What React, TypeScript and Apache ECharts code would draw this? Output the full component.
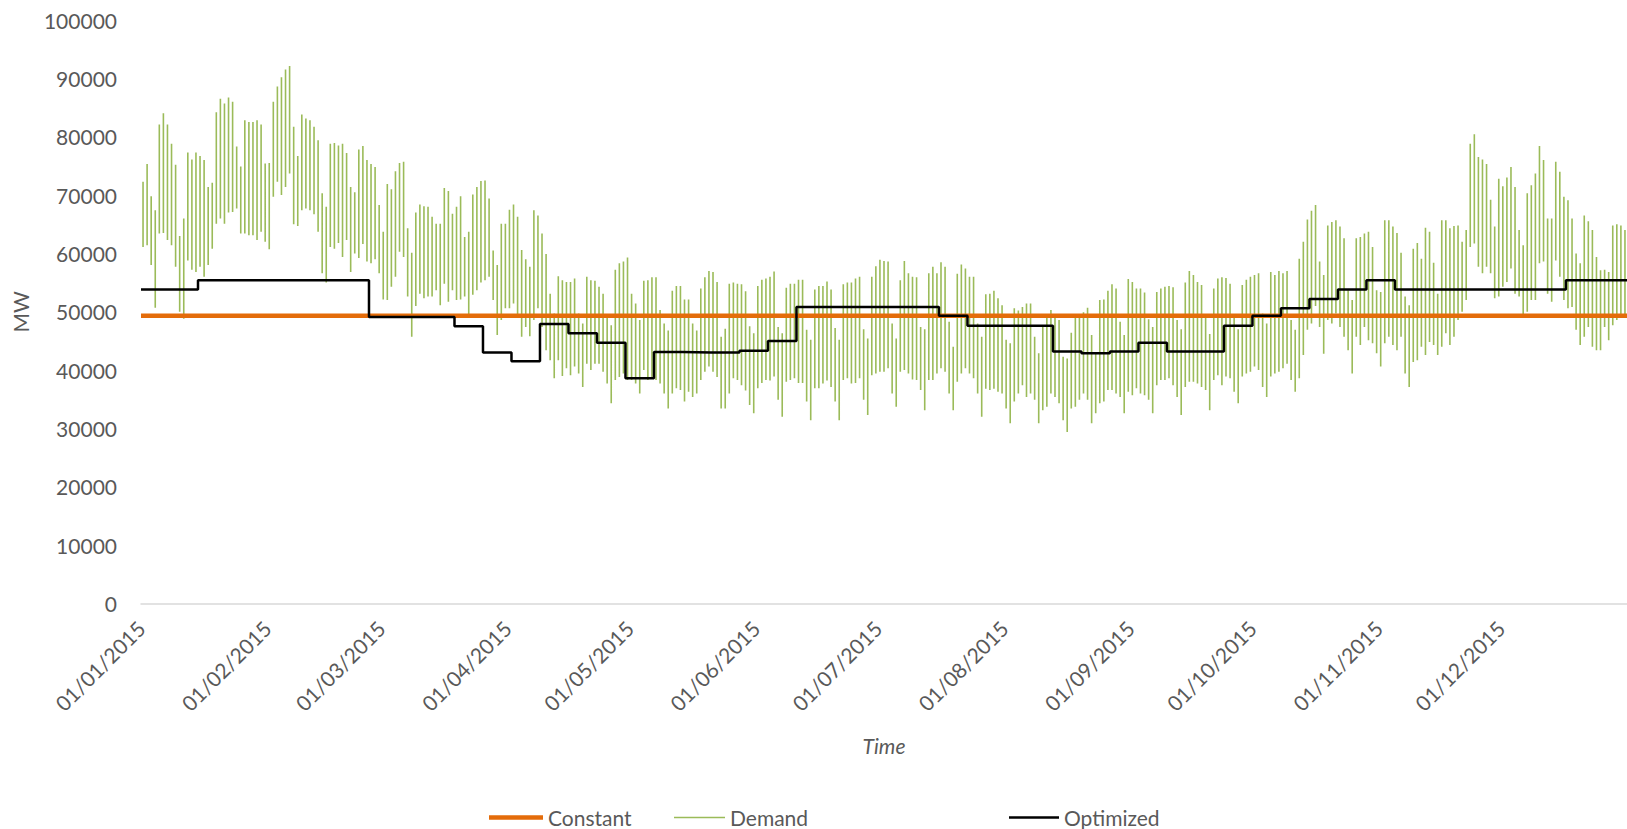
import React, { useEffect, useRef } from "react";
import * as echarts from "echarts";

// ---- Data ----
// X-axis tick labels (month starts), dd/mm/yyyy
const monthTickLabels = [
  "01/01/2015", "01/02/2015", "01/03/2015", "01/04/2015", "01/05/2015", "01/06/2015",
  "01/07/2015", "01/08/2015", "01/09/2015", "01/10/2015", "01/11/2015", "01/12/2015",
];
const axisStart = "01/01/2015";
const axisEnd = "01/01/2016";

// Constant production level (MW)
const constantMW = 49300;

// Optimized level per week (MW), week k starts on day 7k from 01/01/2015
const optimizedWeeklyMW = [
  53800, 53800, 55400, 55400, 55400, 55400, 55400, 55400, 49100, 49100,
  49100, 47500, 43000, 41500, 47900, 46300, 44700, 38600, 43100, 43000,
  43000, 43300, 45000, 50800, 50800, 50800, 50800, 50800, 49300, 47600,
  47600, 47600, 43200, 42900, 43200, 44700, 43200, 43200, 47600, 49300,
  50600, 52200, 53800, 55400, 53800, 53800, 53800, 53800, 53800, 53800,
  55400, 55400, 55400,
];

// Demand: daily peak (thousand MW), one value per day from 01/01/2015
const demandDailyPeakK = [
  72.3, 75.3, 69.8, 67.4, 82.1, 84.0, 82.1, 78.8, 75.2, 63.0,
  66.0, 77.3, 76.1, 77.3, 76.7, 76.0, 71.4, 72.1, 84.2, 86.5,
  85.7, 86.7, 86.0, 78.3, 74.9, 82.8, 82.5, 82.5, 82.8, 82.1,
  75.4, 75.5, 86.0, 88.6, 90.2, 91.5, 92.1, 81.7, 76.7, 83.8,
  83.1, 82.8, 81.7, 79.4, 70.3, 68.0, 78.8, 78.9, 78.5, 78.8,
  77.2, 71.4, 70.5, 77.8, 78.4, 76.0, 75.3, 74.8, 68.3, 63.7,
  71.9, 71.0, 74.1, 75.5, 75.7, 64.3, 60.1, 67.0, 68.4, 68.1,
  68.0, 66.3, 65.1, 65.1, 71.2, 70.7, 66.8, 68.0, 69.8, 62.8,
  63.7, 70.1, 71.4, 72.4, 72.5, 69.4, 60.5, 58.0, 65.1, 65.1,
  67.5, 68.4, 66.3, 60.6, 59.0, 57.7, 67.4, 66.5, 63.4, 59.9,
  53.1, 49.7, 56.1, 55.4, 55.1, 55.1, 55.7, 49.7, 48.0, 56.0,
  55.4, 55.3, 54.3, 53.1, 49.4, 47.7, 57.2, 58.3, 58.6, 59.3,
  53.1, 51.4, 48.6, 55.3, 55.4, 55.9, 55.9, 50.3, 48.0, 46.8,
  53.6, 54.4, 54.4, 52.1, 52.1, 48.0, 46.8, 54.0, 55.9, 57.0,
  56.8, 55.1, 45.7, 47.1, 54.8, 55.0, 54.8, 54.7, 53.5, 47.5,
  46.3, 54.4, 55.5, 55.7, 56.0, 56.9, 47.4, 46.3, 54.1, 54.8,
  54.8, 55.5, 55.5, 46.9, 45.2, 53.8, 54.4, 54.4, 55.2, 53.8,
  47.2, 45.2, 54.7, 55.0, 55.0, 55.7, 56.0, 47.0, 45.4, 56.0,
  57.8, 58.9, 58.7, 58.6, 48.0, 45.4, 55.4, 58.7, 56.6, 56.0,
  55.9, 47.4, 47.0, 56.6, 57.7, 56.6, 58.5, 57.7, 48.3, 44.0,
  56.5, 58.1, 57.4, 56.0, 56.0, 48.0, 45.7, 53.0, 53.1, 53.6,
  52.3, 51.1, 45.2, 44.6, 50.6, 50.2, 50.8, 51.4, 51.4, 45.7,
  42.9, 47.4, 49.1, 50.3, 49.4, 48.6, 42.3, 42.0, 46.4, 49.0,
  49.6, 49.9, 50.7, 46.0, 42.9, 52.0, 52.1, 53.6, 54.7, 54.0,
  48.3, 46.0, 55.6, 55.1, 54.0, 54.0, 53.3, 48.7, 47.4, 53.4,
  54.0, 54.3, 54.4, 54.2, 48.6, 47.0, 55.0, 57.0, 56.3, 55.1,
  54.6, 49.1, 46.2, 54.0, 55.7, 55.9, 55.8, 54.8, 49.1, 47.0,
  54.6, 55.5, 56.0, 56.3, 56.6, 49.7, 48.0, 56.8, 56.3, 57.0,
  56.6, 57.0, 48.6, 46.9, 59.1, 62.0, 65.8, 67.3, 68.3, 58.6,
  56.3, 64.8, 65.4, 65.7, 64.6, 62.6, 53.7, 52.0, 62.6, 62.8,
  63.4, 63.7, 61.1, 53.7, 53.4, 65.7, 65.7, 64.6, 63.5, 60.1,
  52.6, 51.1, 60.8, 61.8, 59.1, 64.4, 63.7, 58.4, 53.1, 65.7,
  65.7, 64.3, 64.7, 64.8, 62.0, 64.0, 78.8, 80.4, 76.5, 76.1,
  75.3, 69.2, 64.6, 72.8, 71.5, 73.0, 74.8, 71.4, 64.0, 61.4,
  70.3, 71.7, 73.7, 78.4, 76.0, 66.0, 66.0, 75.7, 74.0, 69.7,
  69.1, 66.0, 60.0, 58.3, 66.5, 65.5, 64.0, 59.4, 57.1, 57.2,
  56.8, 64.8, 65.0, 64.8, 64.0,
];

// Demand: daily trough (thousand MW), one value per day from 01/01/2015
const demandDailyTroughK = [
  61.1, 61.4, 58.0, 50.7, 63.4, 63.5, 62.3, 61.4, 57.7, 50.0,
  48.8, 58.8, 57.2, 56.8, 57.7, 56.0, 58.0, 60.8, 65.1, 66.0,
  65.1, 67.0, 67.1, 67.7, 63.4, 63.4, 63.1, 63.1, 62.3, 63.7,
  62.0, 60.7, 69.7, 72.3, 70.0, 71.4, 73.7, 65.0, 64.7, 67.4,
  67.7, 67.4, 66.7, 63.7, 56.6, 55.0, 61.1, 60.8, 61.8, 59.4,
  62.3, 56.8, 60.0, 59.2, 61.6, 58.6, 58.3, 59.0, 56.6, 52.1,
  52.0, 54.3, 56.0, 60.3, 59.4, 52.6, 45.7, 51.0, 53.1, 52.3,
  52.6, 52.6, 53.7, 51.1, 54.8, 51.7, 53.7, 52.0, 52.1, 52.6,
  49.6, 52.9, 53.7, 55.0, 55.4, 56.0, 52.0, 46.0, 48.6, 50.6,
  50.6, 51.4, 49.1, 45.7, 47.4, 45.8, 48.6, 50.6, 47.4, 43.4,
  41.7, 38.6, 41.7, 39.0, 40.3, 39.1, 40.6, 39.4, 37.1, 41.1,
  40.0, 41.1, 41.1, 39.7, 37.7, 34.3, 38.3, 38.8, 39.4, 38.3,
  38.3, 37.7, 36.0, 40.0, 38.3, 38.8, 38.3, 37.7, 36.0, 33.4,
  36.0, 36.9, 36.6, 34.6, 36.3, 35.4, 36.0, 38.3, 39.7, 40.6,
  39.7, 38.8, 33.4, 33.4, 36.0, 38.6, 38.3, 37.4, 36.5, 34.0,
  32.6, 36.9, 37.8, 38.3, 38.2, 38.9, 34.9, 32.0, 38.0, 38.3,
  38.6, 37.8, 37.8, 34.6, 31.4, 36.9, 36.9, 37.7, 38.2, 37.1,
  34.6, 31.4, 38.3, 38.6, 37.7, 37.8, 38.6, 34.9, 32.3, 39.1,
  39.4, 39.7, 39.7, 40.3, 36.0, 33.7, 39.7, 40.0, 39.4, 38.4,
  38.3, 36.6, 33.1, 38.3, 38.3, 39.4, 40.3, 39.7, 36.0, 33.1,
  38.0, 39.4, 40.3, 39.4, 38.6, 36.0, 32.0, 36.8, 36.6, 36.8,
  36.3, 36.0, 33.4, 30.9, 34.6, 36.0, 37.4, 35.4, 36.0, 34.9,
  30.9, 33.1, 33.7, 36.0, 35.4, 34.3, 31.4, 29.4, 33.4, 33.7,
  34.9, 36.0, 34.9, 30.9, 32.6, 34.3, 34.6, 36.6, 36.6, 36.0,
  35.4, 32.6, 36.3, 35.7, 36.9, 36.0, 35.7, 34.9, 32.6, 37.4,
  38.3, 38.3, 38.6, 37.4, 35.4, 32.3, 37.1, 38.0, 38.0, 37.7,
  37.1, 36.6, 33.1, 38.3, 39.1, 37.4, 38.9, 38.6, 36.3, 34.3,
  38.9, 39.4, 39.7, 40.6, 40.0, 37.1, 35.4, 38.9, 39.4, 39.7,
  40.3, 41.1, 38.3, 36.3, 38.6, 42.6, 46.9, 48.0, 51.0, 47.4,
  42.8, 48.6, 48.0, 49.7, 47.4, 45.7, 43.4, 39.4, 45.7, 44.3,
  47.4, 45.1, 44.6, 42.9, 40.6, 44.6, 45.7, 44.3, 43.4, 45.7,
  39.4, 37.1, 41.4, 41.7, 44.0, 42.6, 44.8, 44.3, 42.6, 44.0,
  46.3, 44.3, 45.7, 48.6, 50.0, 52.0, 61.1, 61.7, 57.7, 56.6,
  57.7, 56.6, 52.3, 52.6, 54.3, 55.1, 57.4, 53.1, 52.6, 49.1,
  50.0, 52.0, 52.0, 58.3, 58.6, 53.1, 51.7, 58.8, 56.0, 52.0,
  50.6, 50.8, 46.9, 44.3, 45.7, 47.4, 44.0, 43.4, 43.4, 47.4,
  45.1, 47.7, 48.6, 49.1, 49.0,
];

// ---- Styles ----
const TEXT_COLOR = "#595959";
const FONT = "Lato, 'Open Sans', sans-serif";
const FONT_SIZE = 21;
const DAY_MS = 86400000;
const ORANGE = "#E46C0A";
const GREEN = "#9BBB59";
const BLACK = "#000000";

function parseDMY(s: string): number {
  const [d, m, y] = s.split("/").map(Number);
  return Date.UTC(y, m - 1, d);
}
const originMs = parseDMY(axisStart);
// x position on the axis = days elapsed since 01/01/2015
function dayIndex(s: string): number {
  return Math.round((parseDMY(s) - originMs) / DAY_MS);
}
function pad(n: number) {
  return n < 10 ? "0" + n : "" + n;
}
function fmtDay(day: number): string {
  const dt = new Date(originMs + Math.round(day) * DAY_MS);
  return pad(dt.getUTCDate()) + "/" + pad(dt.getUTCMonth() + 1) + "/" + dt.getUTCFullYear();
}

export default function App() {
  const ref = useRef<HTMLDivElement>(null);

  useEffect(() => {
    if (!ref.current) return;
    const chart = echarts.init(ref.current, undefined, { renderer: "svg" });

    const xMax = dayIndex(axisEnd);
    const nDays = demandDailyPeakK.length;

    // each day drawn as its own stroke from the night trough to the daytime peak
    const demandData: any[] = [];
    for (let i = 0; i < nDays; i++) {
      demandData.push([i + 0.5, demandDailyTroughK[i] * 1000]);
      demandData.push([i + 0.5, demandDailyPeakK[i] * 1000]);
      demandData.push([i + 0.5, "-"]);
    }

    const optimizedData: [number, number][] = optimizedWeeklyMW.map((v, k) => [7 * k, v]);
    optimizedData.push([xMax, optimizedWeeklyMW[optimizedWeeklyMW.length - 1]]);

    const constantData: [number, number][] = [
      [0, constantMW],
      [xMax, constantMW],
    ];

    const legendText = { color: TEXT_COLOR, fontFamily: FONT, fontSize: FONT_SIZE };
    const LEGEND_TOP = 807;

    chart.setOption({
      animation: false,
      backgroundColor: "#ffffff",
      textStyle: { fontFamily: FONT },
      grid: { left: 141, right: 0, top: 20, bottom: 225.5, containLabel: false },
      legend: [
        {
          data: [{ name: "Constant", icon: "rect" }],
          left: 489, top: LEGEND_TOP, itemWidth: 54, itemHeight: 4.5, itemGap: 0,
          padding: 0, textStyle: legendText,
        },
        {
          data: [{ name: "Demand", icon: "rect" }],
          left: 674, top: LEGEND_TOP, itemWidth: 51, itemHeight: 1.5, itemGap: 0,
          padding: 0, textStyle: legendText,
        },
        {
          data: [{ name: "Optimized", icon: "rect" }],
          left: 1009, top: LEGEND_TOP, itemWidth: 50, itemHeight: 2.5, itemGap: 0,
          padding: 0, textStyle: legendText,
        },
      ],
      xAxis: {
        type: "value",
        min: 0,
        max: xMax,
        name: "Time",
        nameLocation: "middle",
        nameGap: 131,
        nameTextStyle: { color: TEXT_COLOR, fontFamily: FONT, fontSize: FONT_SIZE, fontStyle: "italic" },
        axisLine: { show: true, onZero: false, lineStyle: { color: "#d9d9d9", width: 1.5 } },
        axisTick: { show: false },
        splitLine: { show: false },
        axisLabel: {
          customValues: monthTickLabels.map(dayIndex),
          formatter: (v: number) => fmtDay(v),
          rotate: 45,
          margin: 21,
          color: TEXT_COLOR,
          fontFamily: FONT,
          fontSize: FONT_SIZE,
        },
      },
      yAxis: {
        type: "value",
        min: 0,
        max: 100000,
        interval: 10000,
        name: "MW",
        nameLocation: "middle",
        nameGap: 110,
        nameRotate: 90,
        nameTextStyle: { color: TEXT_COLOR, fontFamily: FONT, fontSize: FONT_SIZE },
        axisLine: { show: false },
        axisTick: { show: false },
        splitLine: { show: false },
        axisLabel: {
          color: TEXT_COLOR,
          fontFamily: FONT,
          fontSize: FONT_SIZE,
          margin: 24,
          formatter: (v: number) => String(v),
        },
      },
      series: [
        {
          name: "Demand",
          type: "line",
          data: demandData,
          connectNulls: false,
          symbol: "none",
          showSymbol: false,
          z: 2,
          lineStyle: { color: GREEN, width: 1.6 },
          itemStyle: { color: GREEN },
        },
        {
          name: "Constant",
          type: "line",
          data: constantData,
          symbol: "none",
          showSymbol: false,
          z: 3,
          lineStyle: { color: ORANGE, width: 4.5 },
          itemStyle: { color: ORANGE },
        },
        {
          name: "Optimized",
          type: "line",
          step: "end",
          data: optimizedData,
          symbol: "none",
          showSymbol: false,
          z: 4,
          lineStyle: { color: BLACK, width: 2.5 },
          itemStyle: { color: BLACK },
        },
      ],
    });

    return () => chart.dispose();
  }, []);

  return (
    <div
      ref={ref}
      style={{ position: "fixed", left: 0, top: 0, width: 1627, height: 829, background: "#ffffff" }}
    />
  );
}
